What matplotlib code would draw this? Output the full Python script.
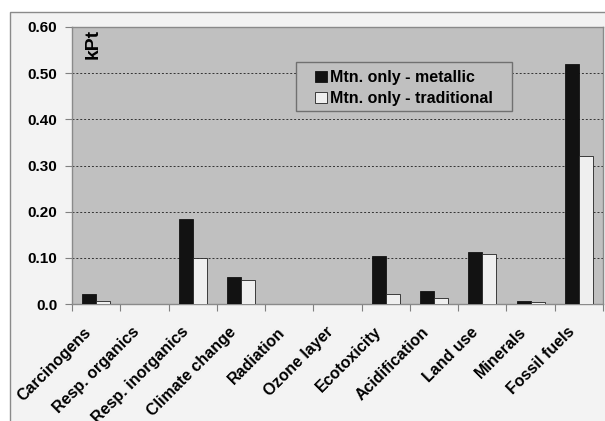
import matplotlib
matplotlib.use("Agg")
import matplotlib.pyplot as plt
import matplotlib.transforms as mtransforms
from matplotlib.patches import Rectangle
import numpy as np

categories = ["Carcinogens", "Resp. organics", "Resp. inorganics", "Climate change",
              "Radiation", "Ozone layer", "Ecotoxicity", "Acidification",
              "Land use", "Minerals", "Fossil fuels"]
metallic = [0.022, 0.0, 0.184, 0.058, 0.001, 0.001, 0.103, 0.029, 0.112, 0.006, 0.519]
traditional = [0.006, 0.0, 0.099, 0.053, 0.0, 0.0, 0.021, 0.014, 0.108, 0.004, 0.321]
series_names = ["Mtn. only - metallic", "Mtn. only - traditional"]
ytick_values = [0.0, 0.1, 0.2, 0.3, 0.4, 0.5, 0.6]
ytick_labels = ["0.0", "0.10", "0.20", "0.30", "0.40", "0.50", "0.60"]

plt.rcParams['font.family'] = ['Liberation Sans', 'DejaVu Sans']
plt.rcParams['font.weight'] = 'bold'

W, H = 605, 421
fig = plt.figure(figsize=(W / 100, H / 100), dpi=100, facecolor="white")

# chart area frame
fig.patches.append(Rectangle((10 / W, -0.1), 1.1, (H - 12) / H + 0.1,
                             transform=fig.transFigure, facecolor="#f3f3f3",
                             edgecolor="#8a8a8a", linewidth=1.0, zorder=-5))

L, R, T, B = 72, 603, 27, 304
ax = fig.add_axes([L / W, 1 - B / H, (R - L) / W, (B - T) / H])
ax.set_facecolor("#c0c0c0")

x = np.arange(len(categories))
bw = 0.29
ax.bar(x - bw / 2, metallic, bw, color="#121212", edgecolor="#121212",
       linewidth=0.6, label=series_names[0], zorder=3)
ax.bar(x + bw / 2, traditional, bw, color="#efefef", edgecolor="#222222",
       linewidth=0.6, label=series_names[1], zorder=3)

ax.set_xlim(-0.5, len(categories) - 0.5)
ax.set_ylim(0, 0.6)

ax.set_yticks(ytick_values)
ax.set_yticklabels(ytick_labels, fontsize=11, fontweight="bold")
for v in ytick_values[1:-1]:
    ax.axhline(v, color="#333333", linestyle=(0, (2, 2)), linewidth=0.7, zorder=1)

ax.set_xticks(np.arange(len(categories) + 1) - 0.5)
ax.set_xticklabels([])
ax.set_xticks(x, minor=True)
ax.set_xticklabels(categories, minor=True, rotation=45, ha="right", va="center",
                   rotation_mode="anchor", fontsize=11.5, fontweight="bold")
ax.tick_params(axis="x", which="minor", length=0, pad=18.5)
ax.tick_params(axis="x", which="major", length=5, color="#808080", direction="out")
ax.tick_params(axis="y", length=5, color="#808080", direction="out", pad=5.5)

# nudge the slanted category labels a little to the left
shift = mtransforms.ScaledTranslation(-7 / 100, 0, fig.dpi_scale_trans)
for lab in ax.get_xticklabels(minor=True):
    lab.set_transform(lab.get_transform() + shift)

for s in ax.spines.values():
    s.set_color("#8a8a8a")
    s.set_linewidth(1.0)

ax.text(0.04, 1 - (29 - T) / (B - T), "kPt", transform=ax.transAxes, rotation=90,
        ha="center", va="top", fontsize=14, fontweight="bold")

# legend box
def ax_frac(px, py):
    return (px - L) / (R - L), 1 - (py - T) / (B - T)

x0, y1 = ax_frac(296, 62)
x1, y0 = ax_frac(512, 111)
ax.add_patch(Rectangle((x0, y0), x1 - x0, y1 - y0, transform=ax.transAxes,
                       facecolor="#c0c0c0", edgecolor="#707070", linewidth=1.0,
                       zorder=4))
leg = ax.legend(loc="center left", bbox_to_anchor=ax_frac(315, 88),
                frameon=False, fontsize=11.5, borderaxespad=0, borderpad=0,
                handlelength=0.72, handleheight=0.65, handletextpad=0.25,
                labelspacing=0.4)
leg.set_zorder(5)
for t in leg.get_texts():
    t.set_fontweight("bold")

fig.savefig("out.png", dpi=100, facecolor="white")
